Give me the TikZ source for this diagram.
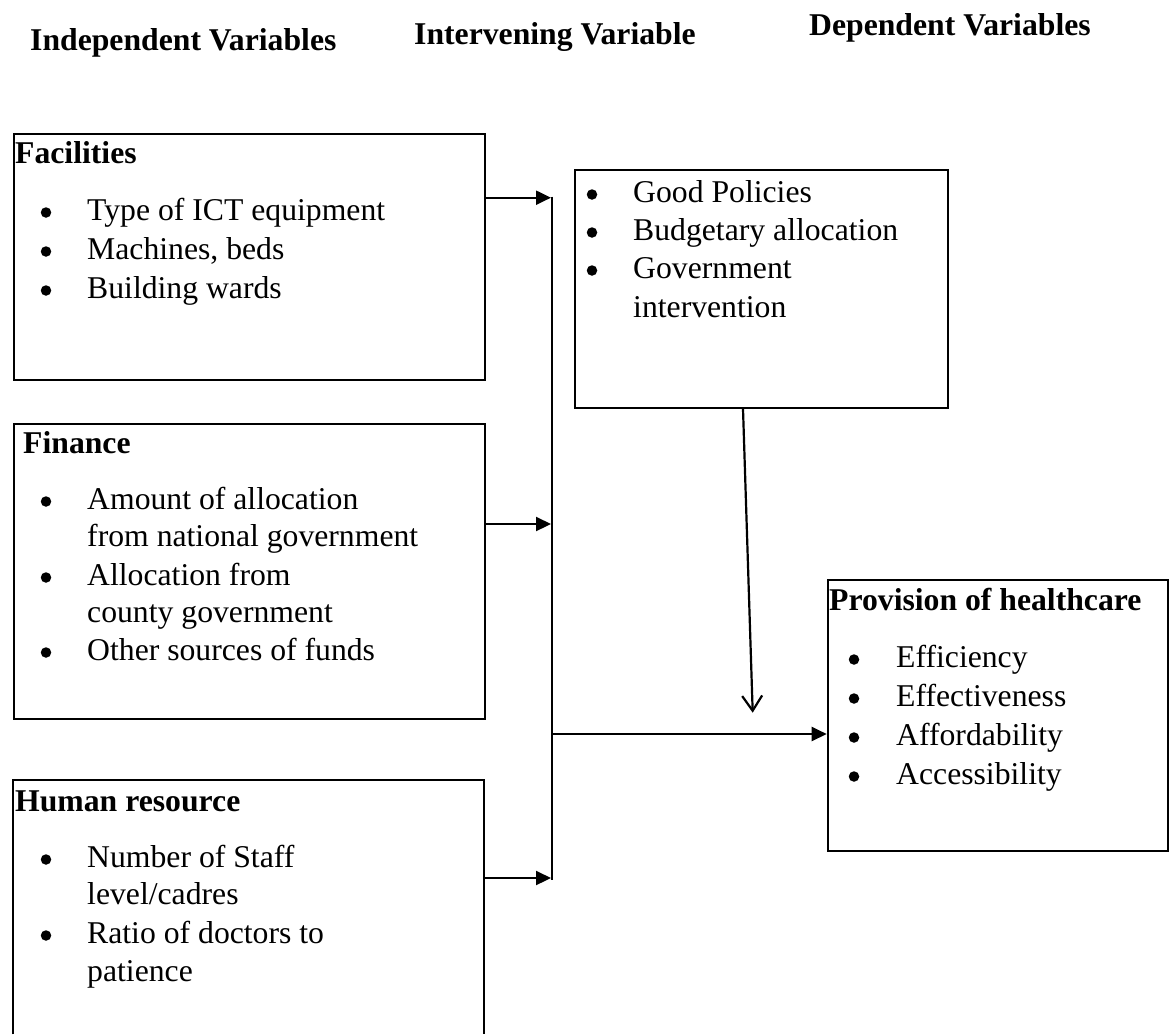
\documentclass[tikz,border=0pt]{standalone}
\usepackage{fontspec}
\setmainfont{Liberation Serif}
\usetikzlibrary{arrows.meta}
\tikzset{
  box/.style={draw, line width=2pt, inner sep=0pt, anchor=north west},
  txt/.style={anchor=base west, inner sep=0pt, font=\fontsize{31.7}{38.5}\selectfont},
  hd/.style={anchor=base west, inner sep=0pt, font=\fontsize{31.7}{38.5}\selectfont\bfseries},
  bul/.style={circle, fill, inner sep=0pt, minimum size=10.5pt},
  title/.style={anchor=base west, inner sep=0pt, font=\fontsize{31.7}{38.5}\selectfont\bfseries},
  conn/.style={line width=2.2pt},
  arr/.style={line width=2.2pt, -{Triangle[length=15pt,width=14pt]}},
  openarr/.style={line width=2.2pt, -{Straight Barb[length=15pt,width=20pt,line width=2.2pt]}}
}
\begin{document}
\begin{tikzpicture}[x=1pt,y=-1pt]
\useasboundingbox (0,0) rectangle (1169,1034);
% titles
\node[title] (t1) at (30,50.5) {Independent Variables};
\node[title] (t2) at (414,44.5) {Intervening Variable};
\node[title] (t3) at (809,35.5) {Dependent Variables};
% boxes
\node[box, minimum width=471.3pt, minimum height=246pt] (fac) at (12.7,133) {};
\node[box, minimum width=471.3pt, minimum height=295.3pt] (fin) at (12.7,422.7) {};
\node[inner sep=0pt, anchor=north west, minimum width=470.8pt, minimum height=254pt] (hum) at (12.7,780) {};
\draw[line width=2pt] (hum.south west) -- (hum.north west) -- (hum.north east) -- (hum.south east);
\node[box, minimum width=372.7pt, minimum height=238pt] (int) at (574,169) {};
\node[box, minimum width=340.3pt, minimum height=271pt] (pro) at (826.7,579) {};
% Facilities
\node[hd] (fh) at (15,163) {Facilities};
\node[bul] (fb1) at (46,212.5) {}; \node[txt] (f1) at (87,220) {Type of ICT equipment};
\node[bul] (fb2) at (46,251.5) {}; \node[txt] (f2) at (87,259) {Machines, beds};
\node[bul] (fb3) at (46,290.5) {}; \node[txt] (f3) at (87,298) {Building wards};
% Finance
\node[hd] (nh) at (23,453) {Finance};
\node[bul] (nb1) at (46,501.5) {}; \node[txt] (n1) at (87,509) {Amount of allocation};
\node[txt] (n2) at (87,546) {from national government};
\node[bul] (nb2) at (46,577.5) {}; \node[txt] (n3) at (87,585) {Allocation from};
\node[txt] (n4) at (87,622) {county government};
\node[bul] (nb3) at (46,652.5) {}; \node[txt] (n5) at (87,660) {Other sources of funds};
% Human resource
\node[hd] (hh) at (15,811) {Human resource};
\node[bul] (hb1) at (46,859.5) {}; \node[txt] (h1) at (87,867) {Number of Staff};
\node[txt] (h2) at (87,904) {level/cadres};
\node[bul] (hb2) at (46,935.5) {}; \node[txt] (h3) at (87,943) {Ratio of doctors to};
\node[txt] (h4) at (87,981) {patience};
% Intervening
\node[bul] (ib1) at (592,194.5) {}; \node[txt] (i1) at (633,202) {Good Policies};
\node[bul] (ib2) at (592,232.5) {}; \node[txt] (i2) at (633,240) {Budgetary allocation};
\node[bul] (ib3) at (592,270.5) {}; \node[txt] (i3) at (633,278) {Government};
\node[txt] (i4) at (633,317) {intervention};
% Provision
\node[hd] (ph) at (829,610) {Provision of healthcare};
\node[bul] (pb1) at (854,659.5) {}; \node[txt] (p1) at (896,667) {Efficiency};
\node[bul] (pb2) at (854,698.5) {}; \node[txt] (p2) at (896,706) {Effectiveness};
\node[bul] (pb3) at (854,737.5) {}; \node[txt] (p3) at (896,745) {Affordability};
\node[bul] (pb4) at (854,776.5) {}; \node[txt] (p4) at (896,784) {Accessibility};
% connectors
\coordinate (bt) at (552,196.7);
\coordinate (bb) at (552,880);
\coordinate (bm) at (552,734);
\coordinate (ja) at (551,197.7);
\coordinate (jb) at (551,524);
\coordinate (jc) at (551,878);
\coordinate (ds) at (743,407);
\coordinate (de) at (752.7,712.7);
\draw[conn] (bt) -- (bb);
\draw[arr] (fac.east |- ja) -- (ja);
\draw[arr] (fin.east |- jb) -- (jb);
\draw[arr] (hum.east |- jc) -- (jc);
\draw[arr] (bm) -- (bm -| pro.west);
\draw[openarr] (int.south -| ds) -- (de);
\end{tikzpicture}
\end{document}
